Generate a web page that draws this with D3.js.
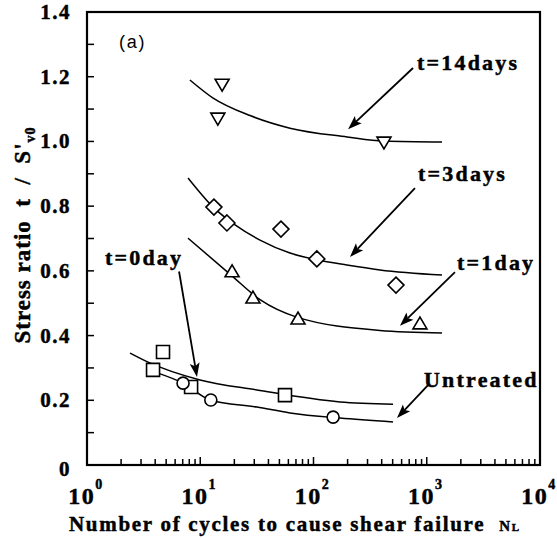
<!DOCTYPE html>
<html><head><meta charset="utf-8">
<script src="https://cdn.jsdelivr.net/npm/d3@7"></script>
<style>
body{margin:0;background:#fff;}
svg{display:block;}
text{font-family:"Liberation Serif","Times New Roman",serif;font-weight:bold;fill:#000;stroke:#000;stroke-width:0.45px;white-space:pre;}
</style></head>
<body>
<svg id="c" width="557" height="538"></svg>
<script>
// ---- data ----
const yTicks = [0, 0.2, 0.4, 0.6, 0.8, 1.0, 1.2, 1.4];
const yTickLabels = ["0", "0.2", "0.4", "0.6", "0.8", "1.0", "1.2", "1.4"];
const xDecades = [0, 1, 2, 3, 4];

// measured points
const ptsDay14 = [[15.6, 1.174], [14.3, 1.069], [419, 0.995]];
const ptsDay3  = [[13.2, 0.797], [17.2, 0.748], [51.6, 0.729], [107, 0.637], [535, 0.556]];
const ptsDay1  = [[19.1, 0.600], [29.2, 0.519], [73, 0.454], [871, 0.439]];
const ptsDay0  = [[4.69, 0.349], [3.83, 0.294], [8.3, 0.241], [56, 0.216]];
const ptsUntr  = [[7.05, 0.253], [12.4, 0.201], [149, 0.148]];

// fitted curves
const fitDay14 = [[8.1, 1.190], [13, 1.134], [27.5, 1.080], [62, 1.041], [198, 1.014], [419, 1.001], [1364, 0.998]];
const fitDay3  = [[7.8, 0.887], [13, 0.797], [20.3, 0.742], [33.7, 0.695], [62, 0.655], [107, 0.634], [197, 0.618], [386, 0.603], [1364, 0.587]];
const fitDay1  = [[7.8, 0.701], [18.7, 0.587], [34, 0.510], [71, 0.457], [386, 0.416], [1364, 0.408]];
const fitDay0  = [[2.4, 0.346], [3.46, 0.318], [9.95, 0.263], [31.7, 0.232], [171, 0.195], [504, 0.188]];
const fitUntr  = [[4.24, 0.284], [7.05, 0.253], [12.2, 0.201], [31.7, 0.179], [62, 0.161], [171, 0.145], [504, 0.133]];

// annotations: label text, label anchor (N, ratio), arrow start, arrow tip
const annLabels = ["t=14days", "t=3days", "t=1day", "t=0day", "Untreated"];
const annLabelPos = [[820, 1.221], [837, 0.878], [1850, 0.603], [1.44, 0.618], [946, 0.241]];
const annArrowFrom = [[757, 1.227], [787, 0.856], [1775, 0.596], [6.5, 0.598], [1026, 0.247]];
const annArrowTo   = [[202, 1.038], [210, 0.643], [580, 0.430], [9.36, 0.272], [546, 0.145]];

// ---- drawing ----
const svg = d3.select("#c");
const L = 87, R = 540, T = 12, B = 465;
const x = d3.scaleLog().domain([1, 1e4]).range([L, R]);
const y = d3.scaleLinear().domain([0, 1.4]).range([B, T]);

// y ticks (inward), major + minor every 0.1
const yAll = d3.range(0, 1.41, 0.1);
svg.append("g").selectAll("line").data(yAll).join("line")
  .attr("x1", L).attr("x2", L + 7)
  .attr("y1", d => y(d)).attr("y2", d => y(d))
  .attr("stroke", "#000").attr("stroke-width", 1.5);

// x ticks (inward)
const xMinor = [];
for (let e = 0; e < 4; e++) for (let k = 2; k <= 9; k++) xMinor.push(k * Math.pow(10, e));
svg.append("g").selectAll("line").data(xMinor).join("line")
  .attr("x1", d => x(d)).attr("x2", d => x(d))
  .attr("y1", B).attr("y2", B - 6)
  .attr("stroke", "#000").attr("stroke-width", 1.5);
svg.append("g").selectAll("line").data(xDecades.slice(1, 4)).join("line")
  .attr("x1", d => x(Math.pow(10, d))).attr("x2", d => x(Math.pow(10, d)))
  .attr("y1", B).attr("y2", B - 8)
  .attr("stroke", "#000").attr("stroke-width", 1.5);

// frame
svg.append("rect").attr("x", L).attr("y", T).attr("width", R - L).attr("height", B - T)
  .attr("fill", "none").attr("stroke", "#000").attr("stroke-width", 2.2);

// y tick labels
svg.append("g").selectAll("text").data(yTicks).join("text")
  .attr("x", L - 16).attr("y", (d, i) => y(d) + (i === 0 ? 11 : 7))
  .attr("text-anchor", "end").attr("font-size", 21).attr("letter-spacing", 1.5)
  .text((d, i) => yTickLabels[i]);

// x tick labels 10^k
const xl = svg.append("g").selectAll("text").data(xDecades).join("text")
  .attr("x", d => x(Math.pow(10, d)) - 1).attr("y", 504)
  .attr("text-anchor", "middle").attr("font-size", 24).attr("letter-spacing", 1.5);
xl.append("tspan").text("10");
xl.append("tspan").attr("dy", -15).attr("font-size", 14).text(d => d);

// axis titles
const xt = svg.append("text").attr("x", 69).attr("y", 531).attr("font-size", 21).attr("letter-spacing", 1.7);
xt.append("tspan").text("Number of cycles to cause shear failure  ");
xt.append("tspan").attr("font-size", 15).text("N");
xt.append("tspan").attr("font-size", 11).text("L");

const yt = svg.append("text").attr("transform", "translate(30,235) rotate(-90)")
  .attr("text-anchor", "middle").attr("font-size", 23).attr("letter-spacing", 1);
yt.append("tspan").text("Stress ratio  t  /  S'");
yt.append("tspan").attr("font-size", 14).attr("dy", 5).text("v0");

// panel label
svg.append("text").attr("x", 119).attr("y", 48).attr("font-size", 18)
  .style("font-family", "'Liberation Sans', Arial, sans-serif").style("font-weight", "normal")
  .style("stroke-width", "0px").attr("letter-spacing", 1.8).text("(a)");

// curves
const line = d3.line().x(d => x(d[0])).y(d => y(d[1])).curve(d3.curveMonotoneX);
[fitDay14, fitDay3, fitDay1, fitDay0, fitUntr].forEach(c => {
  svg.append("path").datum(c).attr("d", line)
    .attr("fill", "none").attr("stroke", "#000").attr("stroke-width", 1.5);
});

// markers
function drawPts(data, path) {
  svg.append("g").selectAll("path").data(data).join("path")
    .attr("transform", d => `translate(${x(d[0])},${y(d[1])})`)
    .attr("d", path).attr("fill", "#fff").attr("stroke", "#000").attr("stroke-width", 1.6);
}
const tri = (s, down) => {
  const h = s * 0.85, w = s / 2;
  return down ? `M${-w},${-h/2}L${w},${-h/2}L0,${h/2}Z` : `M${-w},${h/2}L${w},${h/2}L0,${-h/2}Z`;
};
drawPts(ptsDay14, tri(14, true));
drawPts(ptsDay3, "M0,-8L8,0L0,8L-8,0Z");
drawPts(ptsDay1, tri(14, false));
drawPts(ptsDay0, "M-6.5,-6.5H6.5V6.5H-6.5Z");
drawPts(ptsUntr, d3.symbol().type(d3.symbolCircle).size(Math.PI * 6 * 6)());

// annotations
svg.append("g").selectAll("text").data(annLabels).join("text")
  .attr("x", (d, i) => x(annLabelPos[i][0])).attr("y", (d, i) => y(annLabelPos[i][1]))
  .attr("font-size", 22).attr("letter-spacing", 2.2).text(d => d);

annLabels.forEach((d, i) => {
  const x1 = x(annArrowFrom[i][0]), y1 = y(annArrowFrom[i][1]);
  const x2 = x(annArrowTo[i][0]), y2 = y(annArrowTo[i][1]);
  const ang = Math.atan2(y2 - y1, x2 - x1);
  const hl = 14, hw = 5;
  const bx = x2 - hl * Math.cos(ang), by = y2 - hl * Math.sin(ang);
  svg.append("line").attr("x1", x1).attr("y1", y1).attr("x2", bx + 3 * Math.cos(ang)).attr("y2", by + 3 * Math.sin(ang))
    .attr("stroke", "#000").attr("stroke-width", 1.8);
  const px = -Math.sin(ang), py = Math.cos(ang);
  svg.append("path")
    .attr("d", `M${x2},${y2}L${bx + hw * px},${by + hw * py}L${bx + 3 * Math.cos(ang)},${by + 3 * Math.sin(ang)}L${bx - hw * px},${by - hw * py}Z`)
    .attr("fill", "#000");
});
</script>
</body></html>
